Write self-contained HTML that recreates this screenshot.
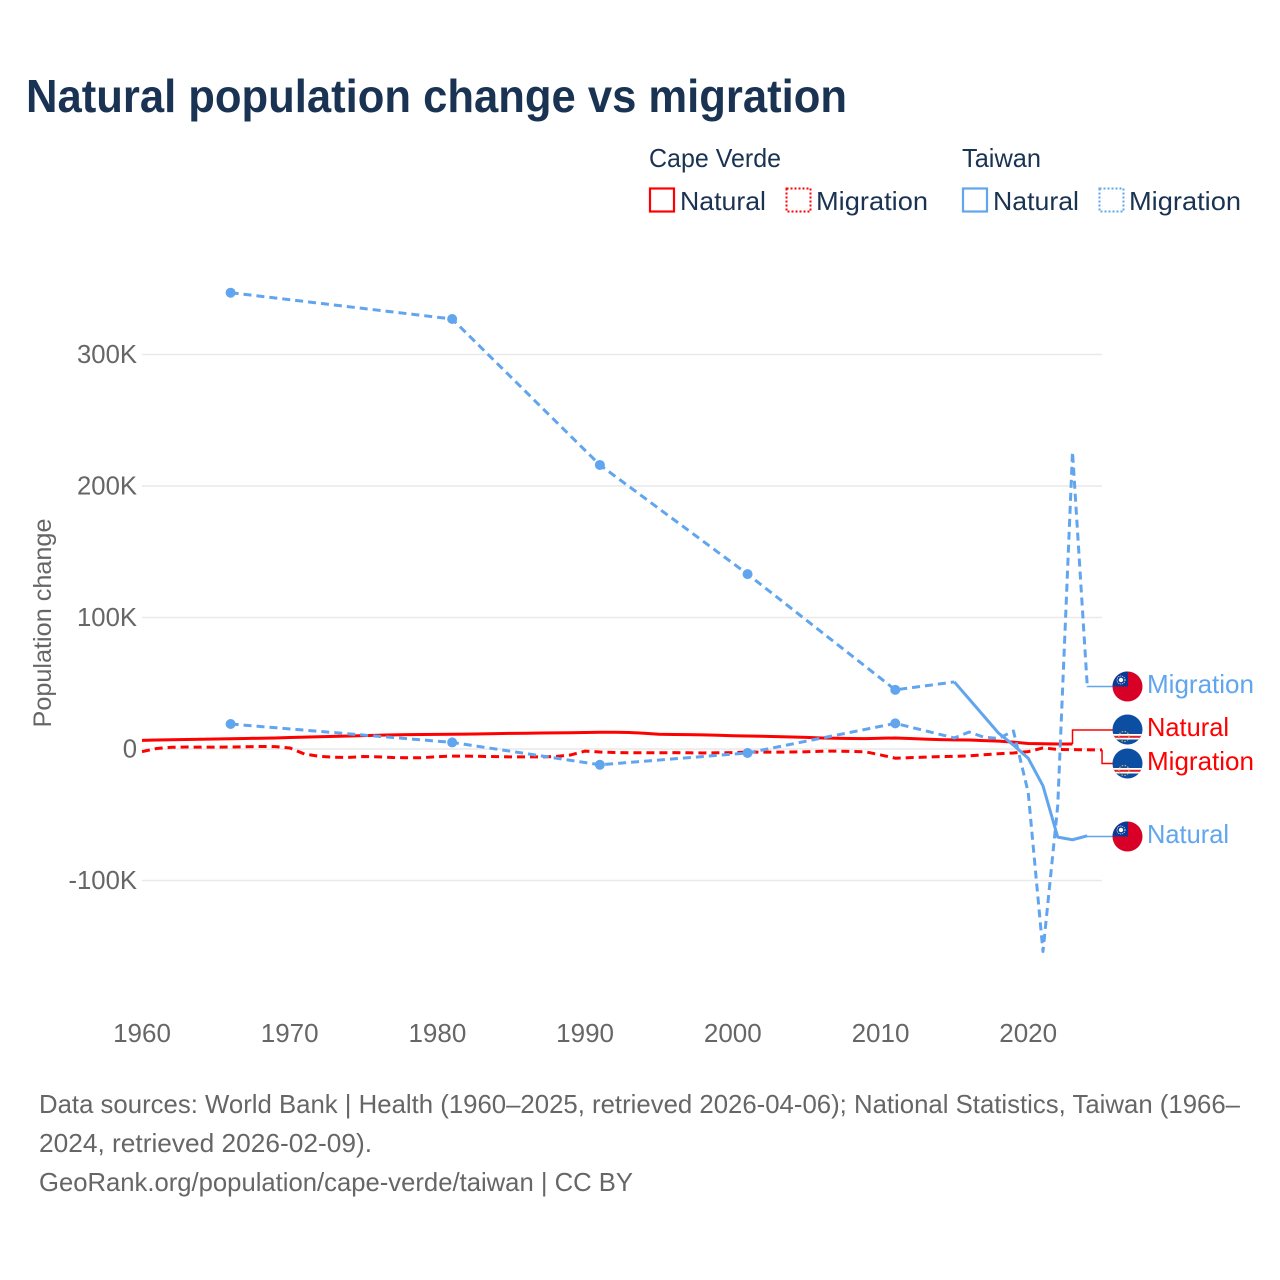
<!DOCTYPE html>
<html lang="en">
<head>
<meta charset="utf-8">
<title>Natural population change vs migration</title>
<style>
html,body{margin:0;padding:0;background:#fff;width:1280px;height:1280px;overflow:hidden}
svg{display:block}
text{font-family:"Liberation Sans",sans-serif}
</style>
</head>
<body>
<svg id="chart" xmlns="http://www.w3.org/2000/svg" width="1280" height="1280" viewBox="0 0 1280 1280">
  <defs>
    <clipPath id="clip-tw-m"><circle cx="1127.5" cy="686.5" r="15"/></clipPath>
    <clipPath id="clip-tw-n"><circle cx="1127.5" cy="836.5" r="15"/></clipPath>
    <clipPath id="clip-cv-n"><circle cx="1127.5" cy="729.5" r="15"/></clipPath>
    <clipPath id="clip-cv-m"><circle cx="1127.5" cy="763.5" r="15"/></clipPath>
  </defs>

  <text x="26" y="112" font-size="46" font-weight="700" fill="#1a3353" textLength="821" lengthAdjust="spacingAndGlyphs">Natural population change vs migration</text>

  <g font-size="26" fill="#1a3353">
    <text x="649" y="167" textLength="132" lengthAdjust="spacingAndGlyphs">Cape Verde</text>
    <text x="962" y="167" textLength="79" lengthAdjust="spacingAndGlyphs">Taiwan</text>
    <rect x="650" y="188.500" width="24" height="23" fill="none" stroke="#ff0000" stroke-width="2.200"/>
    <text x="680" y="210" textLength="86" lengthAdjust="spacingAndGlyphs">Natural</text>
    <rect x="786.500" y="188.500" width="24" height="23" fill="none" stroke="#ff0000" stroke-width="2" stroke-dasharray="2 2"/>
    <text x="816" y="210" textLength="112" lengthAdjust="spacingAndGlyphs">Migration</text>
    <rect x="963" y="188.500" width="24" height="23" fill="none" stroke="#60a5ee" stroke-width="2.200"/>
    <text x="993" y="210" textLength="86" lengthAdjust="spacingAndGlyphs">Natural</text>
    <rect x="1099.500" y="188.500" width="24" height="23" fill="none" stroke="#60a5ee" stroke-width="2" stroke-dasharray="2 2"/>
    <text x="1129" y="210" textLength="112" lengthAdjust="spacingAndGlyphs">Migration</text>
  </g>

  <text transform="translate(51,623) rotate(-90)" text-anchor="middle" font-size="25" fill="#666666" textLength="209" lengthAdjust="spacingAndGlyphs">Population change</text>

  <g id="grid"></g>
  <g id="yticks"></g>
  <g id="xticks"></g>
  <g id="series"></g>
  <g id="leaders"></g>

  <g clip-path="url(#clip-tw-m)">
    <rect x="1112" y="671" width="31" height="31" fill="#d80027"/>
    <rect x="1112" y="671" width="16" height="15.500" fill="#0a3a94"/>
    <circle cx="1121" cy="680" r="2.200" fill="#fff"/>
    <circle cx="1121" cy="680" r="4" fill="none" stroke="#dfe6f5" stroke-width="1" stroke-dasharray="1 1"/>
  </g>
  <g clip-path="url(#clip-tw-n)">
    <rect x="1112" y="821" width="31" height="31" fill="#d80027"/>
    <rect x="1112" y="821" width="16" height="15.500" fill="#0a3a94"/>
    <circle cx="1121" cy="830" r="2.200" fill="#fff"/>
    <circle cx="1121" cy="830" r="4" fill="none" stroke="#dfe6f5" stroke-width="1" stroke-dasharray="1 1"/>
  </g>
  <g clip-path="url(#clip-cv-n)">
    <rect x="1112" y="714" width="31" height="31" fill="#0b4ea2"/>
    <rect x="1112" y="734" width="31" height="5.500" fill="#fff"/>
    <rect x="1112" y="735.800" width="31" height="2" fill="#e0202a"/>
    <circle cx="1124" cy="736.500" r="5" fill="none" stroke="#d8b060" stroke-width="1.200" stroke-dasharray="1.500 1.500"/>
  </g>
  <g clip-path="url(#clip-cv-m)">
    <rect x="1112" y="748" width="31" height="31" fill="#0b4ea2"/>
    <rect x="1112" y="768" width="31" height="5.500" fill="#fff"/>
    <rect x="1112" y="769.800" width="31" height="2" fill="#e0202a"/>
    <circle cx="1124" cy="770.500" r="5" fill="none" stroke="#d8b060" stroke-width="1.200" stroke-dasharray="1.500 1.500"/>
  </g>

  <g font-size="26">
    <text x="1147" y="693" fill="#60a5ee" textLength="107" lengthAdjust="spacingAndGlyphs">Migration</text>
    <text x="1147" y="736" fill="#ff0000" textLength="82" lengthAdjust="spacingAndGlyphs">Natural</text>
    <text x="1147" y="770" fill="#ff0000" textLength="107" lengthAdjust="spacingAndGlyphs">Migration</text>
    <text x="1147" y="843" fill="#60a5ee" textLength="82" lengthAdjust="spacingAndGlyphs">Natural</text>
  </g>

  <g font-size="26" fill="#666666">
    <text x="39" y="1113" textLength="1201" lengthAdjust="spacingAndGlyphs">Data sources: World Bank | Health (1960–2025, retrieved 2026-04-06); National Statistics, Taiwan (1966–</text>
    <text x="39" y="1152" textLength="333" lengthAdjust="spacingAndGlyphs">2024, retrieved 2026-02-09).</text>
    <text x="39" y="1191" textLength="594" lengthAdjust="spacingAndGlyphs">GeoRank.org/population/cape-verde/taiwan | CC BY</text>
  </g>
</svg>

<script>
const yTickValues = [300, 200, 100, 0, -100];
const yTickLabels = ["300K", "200K", "100K", "0", "-100K"];
const xTickYears = [1960, 1970, 1980, 1990, 2000, 2010, 2020];

const cvNaturalStart = 1960;
const cvNatural = [
  6.6, 6.8, 7.0, 7.2, 7.4, 7.6, 7.8, 8.0, 8.2, 8.4,
  8.7, 9.0, 9.3, 9.6, 9.9, 10.2, 10.5, 10.7, 10.9, 11.0,
  11.1, 11.2, 11.3, 11.5, 11.7, 11.9, 12.0, 12.2, 12.3, 12.4,
  12.5, 12.7, 12.7, 12.5, 12.0, 11.2, 11.0, 10.9, 10.7, 10.5,
  10.1, 9.9, 9.7, 9.4, 9.1, 8.8, 8.4, 8.2, 8.0, 7.9,
  8.2, 8.4, 8.0, 7.5, 7.1, 6.9, 6.8, 6.4, 6.0, 5.2,
  4.2, 4.0, 3.8, 3.8
];

const cvMigrationStart = 1960;
const cvMigration = [
  -2.0, 0.4, 1.3, 1.5, 1.4, 1.4, 1.5, 1.7, 1.9, 1.8,
  0.8, -3.8, -5.6, -6.3, -6.4, -5.7, -6.0, -6.5, -6.7, -6.6,
  -5.8, -5.4, -5.4, -5.6, -5.8, -6.0, -6.0, -6.0, -5.7, -4.6,
  -1.6, -2.3, -2.7, -2.9, -2.9, -2.9, -2.8, -2.9, -3.0, -2.9,
  -2.8, -2.3, -2.4, -2.4, -2.3, -2.1, -1.7, -1.6, -1.8, -2.2,
  -4.5, -7.0, -6.6, -6.2, -5.8, -5.6, -5.2, -4.4, -3.6, -3.0,
  -2.0, 0.8, -0.3, -0.5, -0.6, -0.7
];

const twYears = [1966, 1981, 1991, 2001, 2011, 2015, 2016, 2017, 2018, 2019, 2020, 2021, 2022, 2023, 2024];
const twNatural = [347, 327, 216, 133, 45, 51, 38, 25, 12, 3, -7, -28, -67, -69, -66];
const twMigration = [19, 5, -12, -3, 19.5, 8.4, 12.9, 9, 8, 13.7, -33, -154, -43, 226, 47.6];

const NS = "http://www.w3.org/2000/svg";
const RED = "#ff0000";
const BLUE = "#60a5ee";

function xScale(year) { return 142 + (year - 1960) * 14.77; }
function yScale(k) { return 749 - k * 1.315; }

function make(tag, attrs, parent) {
  const el = document.createElementNS(NS, tag);
  for (const key in attrs) el.setAttribute(key, attrs[key]);
  parent.appendChild(el);
  return el;
}

const gridGroup = document.getElementById("grid");
const yTickGroup = document.getElementById("yticks");
yTickValues.forEach(function (v, i) {
  const line = make("line", { x1: 142, x2: 1102, y1: yScale(v), y2: yScale(v), stroke: "#e9e9e9", "stroke-width": 1.5 }, gridGroup);
  
  
  const t = make("text", { x: 137, y: yScale(v) + 8.5, "text-anchor": "end", "font-size": 25.7, fill: "#666666" }, yTickGroup);
  
  
  t.textContent = yTickLabels[i];
});

const xTickGroup = document.getElementById("xticks");
xTickYears.forEach(function (yr) {
  const t = make("text", { x: xScale(yr), y: 1042, "text-anchor": "middle", "font-size": 26, fill: "#666666" }, xTickGroup);
  
  
  t.textContent = String(yr);
});

const seriesGroup = document.getElementById("series");

function polyPath(points) {
  return points.map(function (p, i) {
    return (i ? "L" : "M") + xScale(p[0]).toFixed(2) + " " + yScale(p[1]).toFixed(2);
  }).join(" ");
}
function consecutive(startYear, values) {
  return values.map(function (v, i) { return [startYear + i, v]; });
}
function zipped(years, values) {
  return years.map(function (y, i) { return [y, values[i]]; });
}

// Cape Verde natural: solid
const cvNatPts = consecutive(cvNaturalStart, cvNatural);
const cvNatLine = make("path", { d: polyPath(cvNatPts), fill: "none", stroke: RED, "stroke-width": 3, "stroke-linejoin": "round" }, seriesGroup);



// Cape Verde migration: dashed
const cvMigPts = consecutive(cvMigrationStart, cvMigration);
const cvMigLine = make("path", { d: polyPath(cvMigPts), fill: "none", stroke: RED, "stroke-width": 3, "stroke-dasharray": "8 5", "stroke-linejoin": "round" }, seriesGroup);



// Taiwan migration: dashed throughout
const twMigPts = zipped(twYears, twMigration);
const twMigLine = make("path", { d: polyPath(twMigPts), fill: "none", stroke: BLUE, "stroke-width": 3, "stroke-dasharray": "8 5", "stroke-linejoin": "round" }, seriesGroup);



// Taiwan natural: dashed across gaps between years, solid across consecutive years
const twNatPts = zipped(twYears, twNatural);
let solidPts = [];
let gapPts = [];
twNatPts.forEach(function (p, i) {
  if (i === 0) return;
  const prev = twNatPts[i - 1];
  if (p[0] - prev[0] > 1) {
    gapPts.push(prev);
    gapPts.push(p);
  } else {
    if (solidPts.length === 0) solidPts.push(prev);
    solidPts.push(p);
  }
});
const twNatGap = make("path", { d: polyPath(gapPts), fill: "none", stroke: BLUE, "stroke-width": 3, "stroke-dasharray": "8 5", "stroke-linejoin": "round" }, seriesGroup);


const twNatSolid = make("path", { d: polyPath(solidPts), fill: "none", stroke: BLUE, "stroke-width": 3, "stroke-linejoin": "round" }, seriesGroup);



// Dots at isolated years (no neighbouring year on either side)
function addDots(points, name) {
  points.forEach(function (p, i) {
    const before = i > 0 && p[0] - points[i - 1][0] === 1;
    const after = i < points.length - 1 && points[i + 1][0] - p[0] === 1;
    if (before || after) return;
    const dot = make("circle", { cx: xScale(p[0]), cy: yScale(p[1]), r: 5, fill: BLUE }, seriesGroup);
    
    
  });
}
addDots(twNatPts, 'point-taiwan-natural');
addDots(twMigPts, 'point-taiwan-migration');

// Leaders from each series end to its label
const leaderGroup = document.getElementById("leaders");
function addLeader(lastPoint, labelY, color, name) {
  const sx = xScale(lastPoint[0]);
  const sy = yScale(lastPoint[1]);
  const d = "M" + sx + " " + sy + " V" + labelY + " H1113";
  const path = make("path", { d: d, fill: "none", stroke: color, "stroke-width": 1.5 }, leaderGroup);
  
  
}
addLeader(twMigPts[twMigPts.length - 1], 686.5, BLUE, 'leader-taiwan-migration');
addLeader(cvNatPts[cvNatPts.length - 1], 730, RED, 'leader-cape-verde-natural');
addLeader(cvMigPts[cvMigPts.length - 1], 763.5, RED, 'leader-cape-verde-migration');
addLeader(twNatPts[twNatPts.length - 1], 836.5, BLUE, 'leader-taiwan-natural');
</script>
</body>
</html>
